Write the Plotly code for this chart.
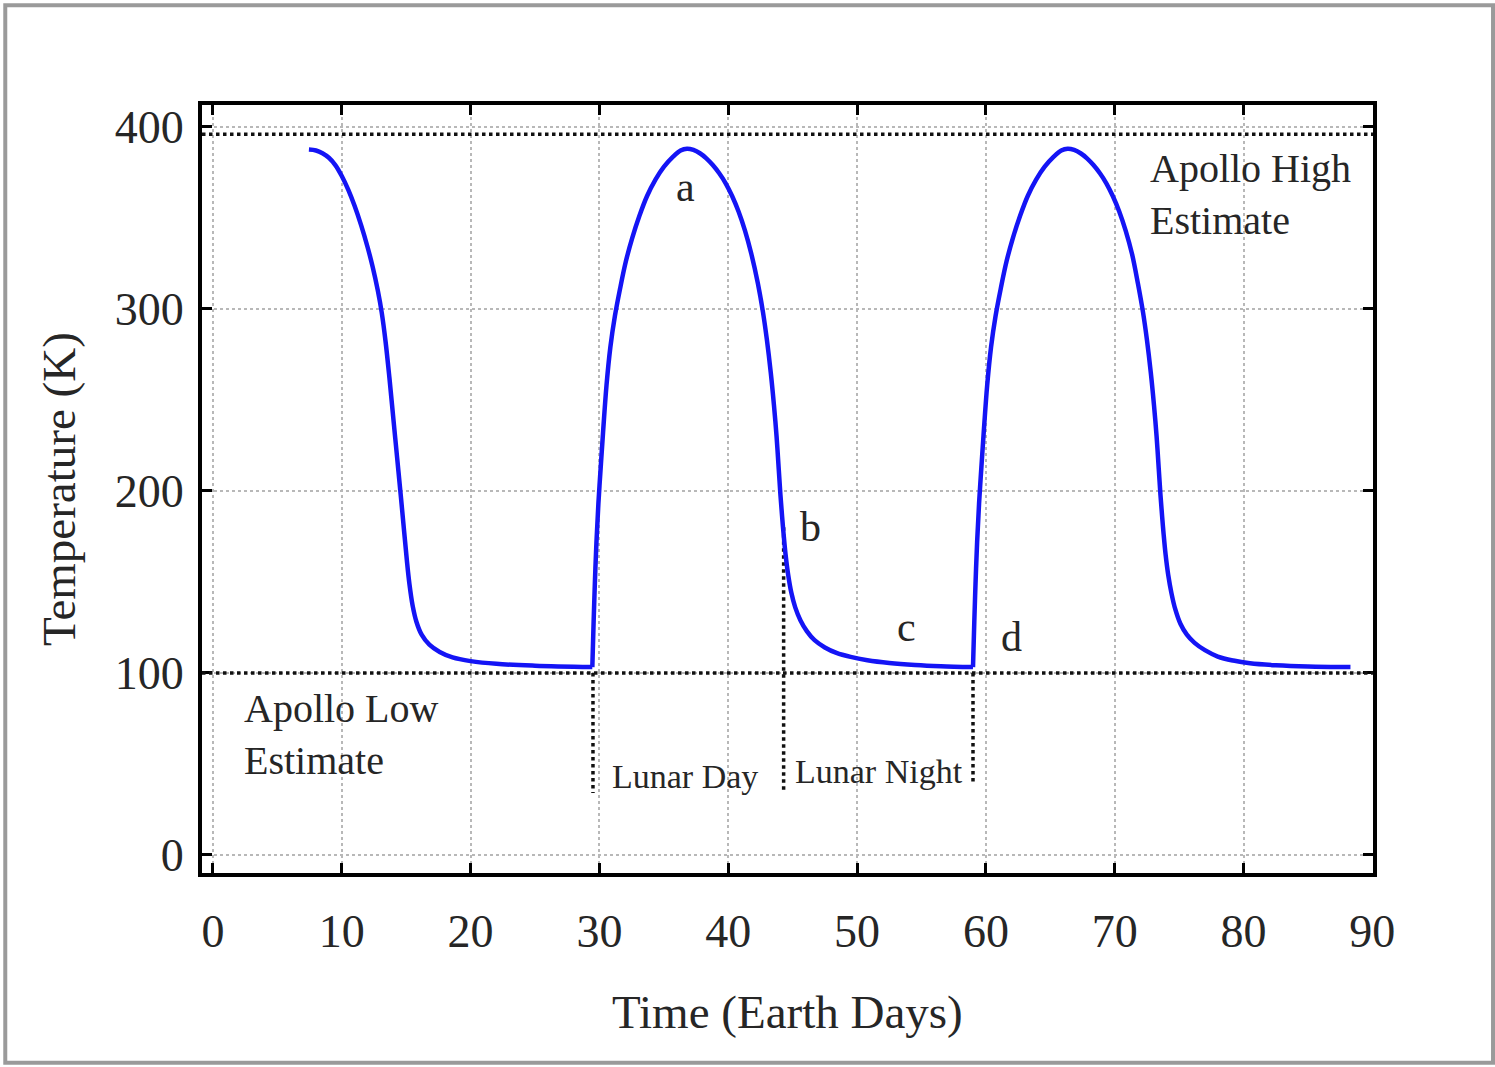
import plotly.graph_objects as go

# ---- data ----
# first lunar cycle (curve starts at local noon)
days_1 = [7.45, 8.0, 8.5, 9.0, 9.5, 10.0, 10.5, 11.0, 11.5, 12.0, 12.4, 12.8, 13.1, 13.4, 13.7,
          14.0, 14.3, 14.6, 14.85, 15.05, 15.25, 15.5, 15.8, 16.2, 16.8, 17.6, 18.6, 20.0, 22.0,
          25.0, 29.45]
temps_1 = [387.5, 387, 385.5, 383, 379, 373, 365.5, 356.5, 346, 334, 323, 310, 298, 282, 262,
           240, 218, 196, 177, 162, 149, 137, 128, 121, 115.5, 111.5, 108.5, 106.5, 105,
           104, 103.2]

# second cycle: sunrise at ~29.45, sunset (b) at ~44.3, next sunrise (d) at ~59.0
days_2 = [29.45, 29.55, 29.65, 29.77, 29.92, 30.1, 30.3, 30.55, 30.85, 31.2, 31.6, 32.05, 32.55,
          33.1, 33.7, 34.35, 35.0, 35.7, 36.3, 36.8, 37.3, 37.8, 38.3, 38.8, 39.3, 39.8, 40.3,
          40.8, 41.3, 41.8, 42.3, 42.7, 43.0, 43.3, 43.55, 43.75, 43.92, 44.05, 44.18, 44.3,
          44.45, 44.65, 44.9, 45.2, 45.6, 46.1, 46.7, 47.5, 48.4, 49.5, 50.8, 52.5, 54.5, 56.5,
          59.0]
temps_2 = [103.2, 128, 150, 172, 193, 213, 234, 258, 279, 296, 311, 326, 339,
           351, 362, 371, 378, 383.5, 387, 388, 387.3, 385.5, 382.7, 379, 374.5, 369, 362,
           353.5, 343, 330, 314, 298, 283, 265, 247, 230, 212, 198, 186, 176,
           165, 154, 144, 136, 129, 123, 118, 114, 111, 108.8, 107, 105.5, 104.4, 103.7,
           103.2]

# third cycle
days_3 = [59.0, 59.1, 59.2, 59.32, 59.47, 59.65, 59.85, 60.1, 60.4, 60.75, 61.15, 61.6, 62.1,
          62.65, 63.25, 63.9, 64.55, 65.25, 65.85, 66.35, 66.85, 67.35, 67.85, 68.35, 68.85,
          69.35, 69.85, 70.35, 70.85, 71.35, 71.8, 72.2, 72.5, 72.8, 73.05, 73.25, 73.42, 73.55,
          73.68, 73.8, 73.95, 74.15, 74.4, 74.7, 75.1, 75.6, 76.2, 77.0, 78.0, 79.2, 80.5, 82.5,
          85.0, 88.3]
temps_3 = [103.2, 128, 150, 172, 193, 213, 234, 258, 279, 296, 311, 326, 339,
           351, 362, 371, 378, 383.5, 387, 388, 387.3, 385.5, 382.7, 379, 374.5,
           369, 362, 353.5, 343, 330, 314, 298, 283, 265, 247, 230, 212, 198,
           186, 176, 165, 154, 144, 135, 127, 121, 116.5, 112.5, 109, 106.8, 105.3, 104.2,
           103.5, 103.2]

apollo_high = 396
apollo_low = 100

boundary_days = [29.5, 44.3, 59.0]
boundary_top = [100, 180, 100]
boundary_bottom = [34, 35, 39]

x_ticks = [0, 10, 20, 30, 40, 50, 60, 70, 80, 90]
y_ticks = [0, 100, 200, 300, 400]

point_labels = ["a", "b", "c", "d"]
point_label_x = [36.7, 46.4, 53.8, 62.0]
point_label_y = [367, 180, 125, 120]

FONT = "Liberation Serif"
TXT = "#262626"
BLUE = "#1414f5"

fig = go.Figure()

# Apollo estimate lines
for val in [apollo_high, apollo_low]:
    fig.add_shape(type="line", xref="paper", x0=0, x1=1, yref="y", y0=val, y1=val,
                  line=dict(color="#111111", width=3.5, dash="dot"), layer="above")

# lunar day / night boundary markers
for bx, bt, bb in zip(boundary_days, boundary_top, boundary_bottom):
    fig.add_trace(go.Scatter(x=[bx, bx], y=[bt, bb], mode="lines",
                             line=dict(color="#111111", width=3.5, dash="dot"),
                             showlegend=False, hoverinfo="skip"))

for dx, ty in [(days_1, temps_1), (days_2, temps_2), (days_3, temps_3)]:
    fig.add_trace(go.Scatter(x=dx, y=ty, mode="lines",
                             line=dict(color=BLUE, width=4.5, shape="spline", smoothing=1.0),
                             showlegend=False))

for t, lx, ly in zip(point_labels, point_label_x, point_label_y):
    fig.add_annotation(x=lx, y=ly, text=t, showarrow=False,
                       font=dict(family=FONT, size=42, color=TXT))

fig.add_annotation(x=72.6, y=363, text="Apollo High<br>Estimate", showarrow=False,
                   xanchor="left", yanchor="middle", align="left",
                   font=dict(family=FONT, size=40, color=TXT))
fig.add_annotation(x=2.25, y=66, text="Apollo Low<br>Estimate", showarrow=False,
                   xanchor="left", yanchor="middle", align="left",
                   font=dict(family=FONT, size=40, color=TXT))
fig.add_annotation(x=30.8, y=43, text="Lunar Day", showarrow=False,
                   xanchor="left", yanchor="middle",
                   font=dict(family=FONT, size=34, color=TXT))
fig.add_annotation(x=45.0, y=45.6, text="Lunar Night", showarrow=False,
                   xanchor="left", yanchor="middle",
                   font=dict(family=FONT, size=34, color=TXT))

# axis titles
fig.add_annotation(xref="paper", yref="paper", x=0.5, y=0, yshift=-139,
                   text="Time (Earth Days)", showarrow=False, yanchor="middle",
                   font=dict(family=FONT, size=47, color=TXT))
fig.add_annotation(xref="paper", yref="paper", x=0, y=0.5, xshift=-143,
                   text="Temperature (K)", showarrow=False, textangle=-90,
                   xanchor="center", yanchor="middle",
                   font=dict(family=FONT, size=47, color=TXT))

# outer picture frame
fig.add_shape(type="rect", xref="paper", yref="paper",
              x0=-0.168, x1=1.1025, y0=-0.247, y1=1.130,
              line=dict(color="#9a9a9a", width=4), layer="below")

axis_common = dict(
    showline=True, linecolor="black", linewidth=4, mirror="ticks",
    ticks="inside", ticklen=10, tickwidth=3, tickcolor="black",
    showgrid=True, gridcolor="#b8b8b8", gridwidth=2, griddash="dot",
    zeroline=False,
    tickfont=dict(family=FONT, size=46, color=TXT),
)

fig.update_xaxes(range=[-0.85, 90.05], tickvals=x_ticks, ticklabelstandoff=15, **axis_common)
fig.update_yaxes(range=[-9.9, 412], tickvals=y_ticks, ticklabelstandoff=5, **axis_common)

fig.update_layout(
    width=1495, height=1067,
    margin=dict(l=202, r=122, t=105, b=194),
    paper_bgcolor="white", plot_bgcolor="white",
)

fig.write_html("out.html")
